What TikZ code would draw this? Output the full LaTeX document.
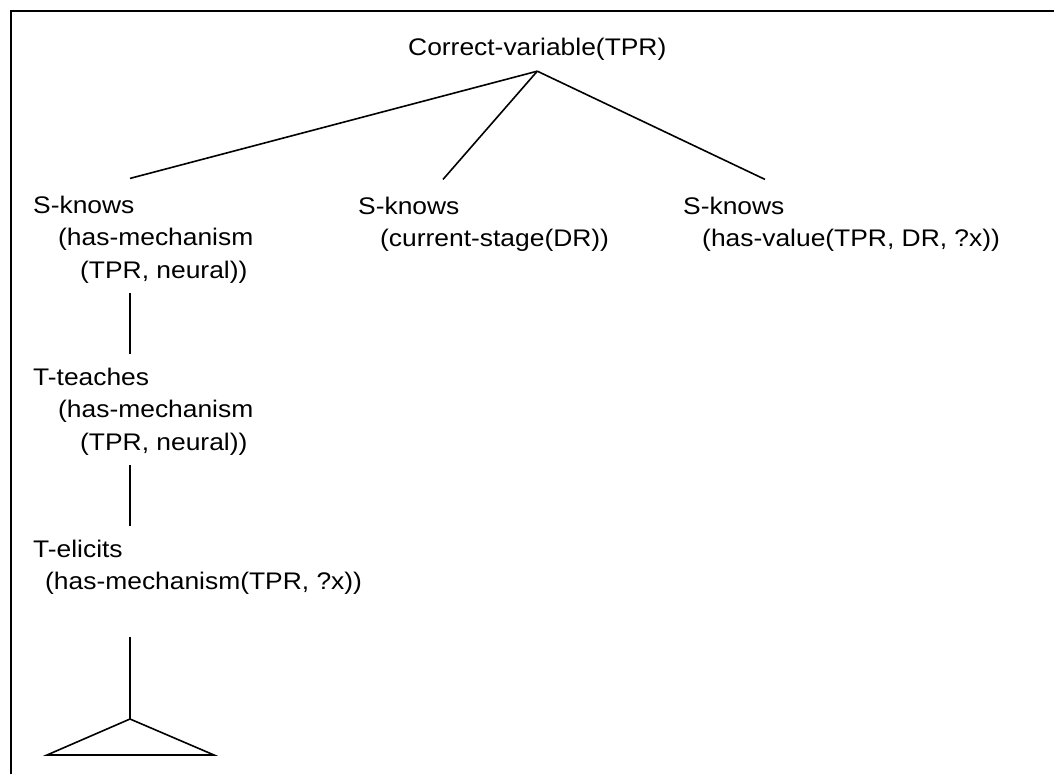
\documentclass[tikz,border=0pt]{standalone}
\usepackage{fontspec}
\setmainfont{Liberation Sans}[FakeStretch=1.1]
% stacked lines of one tree term; the first line carries the baseline
\newcommand{\termlines}[1]{\vtop{\baselineskip=32.5pt #1}}
\begin{document}
\begin{tikzpicture}[x=1pt,y=-1pt,
  term/.style={anchor=base west, inner sep=0pt,
               font=\fontsize{24}{32.5}\selectfont},
  link/.style={line width=1.6pt},
  frame/.style={line width=2pt}]
\useasboundingbox (0,0) rectangle (1054,774);
% open frame (top and left sides)
\draw[frame] (11,774) -- (11,11) -- (1054,11);

% goal tree
\node[term] (root) at (408,55) {Correct-variable(TPR)};
\node[term] (s1) at (33,213) {\termlines{\hbox{S-knows}\hbox{\hspace*{25pt}(has-mechanism}\hbox{\hspace*{47pt}(TPR, neural))}}};
\node[term] (s2) at (358,214) {\termlines{\hbox{S-knows}\hbox{\hspace*{22pt}(current-stage(DR))}}};
\node[term] (s3) at (683,214) {\termlines{\hbox{S-knows}\hbox{\hspace*{19pt}(has-value(TPR, DR, ?x))}}};
\node[term] (t1) at (33,385) {\termlines{\hbox{T-teaches}\hbox{\hspace*{25pt}(has-mechanism}\hbox{\hspace*{47pt}(TPR, neural))}}};
\node[term] (t2) at (33,557) {\termlines{\hbox{T-elicits}\hbox{\hspace*{12pt}(has-mechanism(TPR, ?x))}}};

% branch point above the collapsed subtree
\coordinate (sub) at (130,719);

% connectors
\coordinate (apex) at ([shift={(0,11)}]root.south);
\draw[link] (apex) -- ([shift={(97,-17)}]s1.north west);
\draw[link] (apex) -- ([shift={(85,-17)}]s2.north west);
\draw[link] (apex) -- ([shift={(82,-17)}]s3.north west);
\draw[link] ([shift={(97,10)}]s1.south west) -- ([shift={(97,-13)}]t1.north west);
\draw[link] ([shift={(97,10)}]t1.south west) -- ([shift={(97,-13)}]t2.north west);
\draw[link] ([shift={(97,42)}]t2.south west) -- (sub);

% collapsed subtree
\draw[link, line join=miter] (sub) -- ++(-83,36) -- ++(167,0) -- cycle;
\end{tikzpicture}
\end{document}
